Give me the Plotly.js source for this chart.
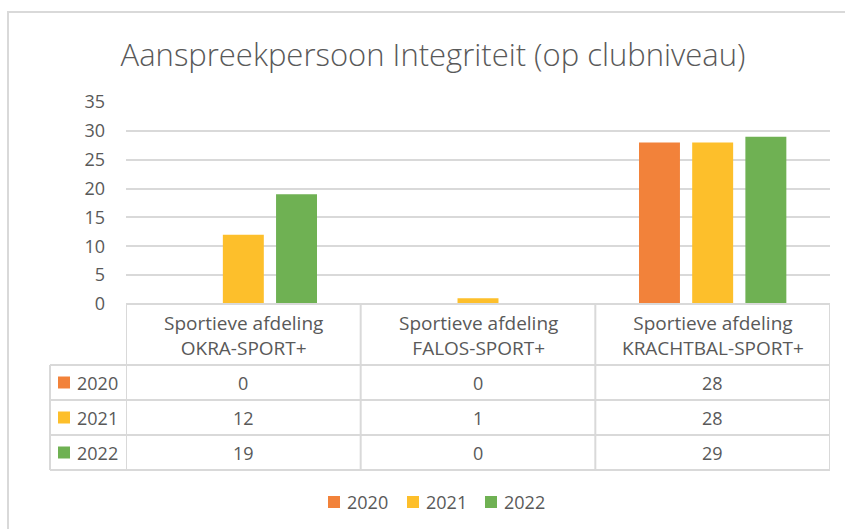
<!DOCTYPE html>
<html>
<head>
<meta charset="utf-8">
<script src="https://cdn.plot.ly/plotly-3.0.1.min.js"></script>
<style>
  body { margin: 0; background: #fff; }
  #chart { width: 845px; height: 529px; }
</style>
</head>
<body>
<div id="chart"></div>
<script>
// Chart data
const categories = ["Sportieve afdeling<br>OKRA-SPORT+", "Sportieve afdeling<br>FALOS-SPORT+", "Sportieve afdeling<br>KRACHTBAL-SPORT+"];
const years = ["2020", "2021", "2022"];
const values2020 = [0, 0, 28];
const values2021 = [12, 1, 28];
const values2022 = [19, 0, 29];
const colors = ["#F2823A", "#FDBF2B", "#6FB153"];
const yTicks = [0, 5, 10, 15, 20, 25, 30, 35];

const seriesValues = [values2020, values2021, values2022];
const textColor = "#595959";
const lineColor = "#d9d9d9";
const fontFam = "Open Sans, sans-serif";

// plot area in pixels
const L = 126, R = 830, T = 102, B = 304;
const px = x => (x - L) / (R - L);
const py = y => (B - y) / (B - T);

const catIdx = categories.map((_, i) => i);

const traces = years.map((yr, s) => ({
  type: "bar",
  name: yr,
  x: catIdx,
  y: seriesValues[s],
  marker: { color: colors[s] },
  hoverinfo: "skip"
}));

// data table under the plot
const rowTops = [365, 400, 435, 470];
const headerTop = 304;
const keyLeft = 50;
const shapes = [];
const annotations = [];

function hline(y, x0) {
  shapes.push({ type: "line", xref: "paper", yref: "paper", x0: px(x0), x1: 1, y0: py(y), y1: py(y),
    line: { color: lineColor, width: 2 } });
}
hline(headerTop, L);
rowTops.forEach(y => hline(y, keyLeft));
// vertical lines at category borders
[-0.5, 0.5, 1.5, 2.5].forEach(xv => {
  shapes.push({ type: "line", xref: "x", yref: "paper", x0: xv, x1: xv, y0: py(headerTop), y1: py(470),
    line: { color: lineColor, width: 2 } });
});
shapes.push({ type: "line", xref: "paper", yref: "paper", x0: px(keyLeft), x1: px(keyLeft), y0: py(365), y1: py(470),
  line: { color: lineColor, width: 2 } });

// category header text
categories.forEach((c, i) => {
  annotations.push({ xref: "x", yref: "paper", x: i, y: py(335), text: c, showarrow: false,
    font: { family: fontFam, size: 19, color: textColor }, align: "center", yanchor: "middle" });
});

// rows: key + year + values
years.forEach((yr, s) => {
  const yc = (rowTops[s] + rowTops[s + 1]) / 2;
  shapes.push({ type: "rect", xref: "paper", yref: "paper", x0: px(58), x1: px(70), y0: py(yc - 6), y1: py(yc + 6),
    fillcolor: colors[s], line: { width: 0 } });
  annotations.push({ xref: "paper", yref: "paper", x: px(75), y: py(yc), text: yr, showarrow: false,
    xanchor: "left", yanchor: "middle", font: { family: fontFam, size: 18, color: textColor } });
  seriesValues[s].forEach((v, i) => {
    annotations.push({ xref: "x", yref: "paper", x: i, y: py(yc), text: String(v), showarrow: false,
      yanchor: "middle", font: { family: fontFam, size: 18, color: textColor } });
  });
});

// legend at the bottom
const legendX = [328, 407, 485];
years.forEach((yr, s) => {
  shapes.push({ type: "rect", xref: "paper", yref: "paper", x0: px(legendX[s]), x1: px(legendX[s] + 12),
    y0: py(496), y1: py(508), fillcolor: colors[s], line: { width: 0 } });
  annotations.push({ xref: "paper", yref: "paper", x: px(legendX[s] + 17), y: py(502), text: yr, showarrow: false,
    xanchor: "left", yanchor: "middle", font: { family: fontFam, size: 18, color: textColor } });
});

// chart border
shapes.push({ type: "rect", xref: "paper", yref: "paper", x0: px(8), x1: px(860), y0: py(12), y1: py(540),
  line: { color: lineColor, width: 2 }, fillcolor: "rgba(0,0,0,0)", layer: "below" });

const layout = {
  width: 845,
  height: 529,
  margin: { l: L, r: 845 - R, t: T, b: 529 - B },
  paper_bgcolor: "#fff",
  plot_bgcolor: "#fff",
  title: {
    text: "Aanspreekpersoon Integriteit (op clubniveau)",
    font: { family: fontFam, size: 31, color: textColor, weight: 300 },
    x: 433 / 845, xanchor: "center", y: 1 - 55 / 529, yanchor: "middle"
  },
  showlegend: false,
  barmode: "group",
  bargap: 0.32,
  bargroupgap: 0.23,
  xaxis: {
    range: [-0.5, 2.5],
    showticklabels: false,
    showgrid: false,
    zeroline: false,
    fixedrange: true
  },
  yaxis: {
    range: [0, 35],
    tickvals: yTicks,
    ticktext: yTicks.map(String),
    showgrid: true,
    gridcolor: lineColor,
    gridwidth: 2,
    zeroline: false,
    ticks: "",
    ticklabelstandoff: 20,
    tickfont: { family: fontFam, size: 18, color: textColor },
    fixedrange: true
  },
  shapes: shapes,
  annotations: annotations
};

Plotly.newPlot("chart", traces, layout, { displayModeBar: false, staticPlot: true });
</script>
</body>
</html>
